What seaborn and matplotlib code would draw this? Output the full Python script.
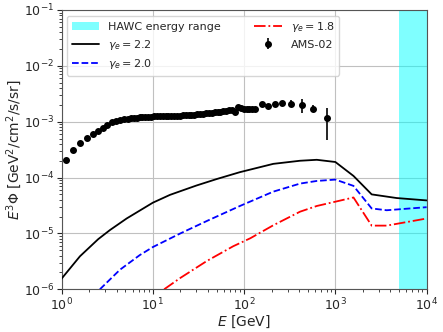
import matplotlib
matplotlib.use('Agg')
import matplotlib.pyplot as plt
import numpy as np
import pandas as pd
import seaborn as sns

# model curves (E in GeV, E^3 Phi)
E_22 = [1, 1.59, 2.52, 3.39, 5.16, 10, 15.4, 20, 30, 50, 90, 209, 410, 626, 1000, 1580, 2500, 4700, 10000]
F_22 = [1.55e-6, 3.9e-6, 7.9e-6, 1.15e-5, 1.85e-5, 3.55e-5, 4.9e-5, 5.7e-5, 7.2e-5, 9.4e-5, 1.25e-4,
        1.76e-4, 2.0e-4, 2.08e-4, 1.9e-4, 1.07e-4, 5.0e-5, 4.3e-5, 3.9e-5]

E_20 = [2.63, 4.36, 7.2, 10, 20, 40, 90, 209, 410, 626, 1000, 1580, 2500, 3650, 10000]
F_20 = [1.0e-6, 2.24e-6, 4.1e-6, 5.7e-6, 1.0e-5, 1.7e-5, 3.1e-5, 5.6e-5, 7.8e-5, 8.7e-5, 9.2e-5,
        7.1e-5, 2.8e-5, 2.6e-5, 2.95e-5]

E_18 = [13.3, 19.8, 38.9, 76, 117, 209, 410, 626, 1000, 1580, 2500, 3650, 10000]
F_18 = [1.0e-6, 1.58e-6, 3.2e-6, 5.9e-6, 8.2e-6, 1.4e-5, 2.45e-5, 3.1e-5, 3.7e-5, 4.4e-5,
        1.38e-5, 1.38e-5, 1.85e-5]

# AMS-02 data
E_ams = [1.11, 1.34, 1.59, 1.88, 2.19, 2.48, 2.81, 3.16, 3.53, 3.94, 4.36, 4.86,
         5.4, 5.8, 6.2, 6.7, 7.2, 7.7, 8.3, 8.9, 9.6, 10.3, 11.1, 11.9, 12.8, 13.8,
         14.8, 15.9, 17.1, 18.4, 19.8, 21.3, 22.9, 24.6, 26.5, 28.5, 30.7, 33.0, 35.5,
         38.2, 41.1, 44.2, 47.6, 51.2, 55.1, 59.3, 63.8, 68.6, 73.8, 79.4, 85.4, 91.9,
         98.9, 106.4, 114.5, 123.2, 132.6, 159, 184, 218, 263, 325, 427, 575, 815]
F_ams = [2.1e-4, 3.1e-4, 4.2e-4, 5.1e-4, 6.05e-4, 6.95e-4, 7.8e-4, 8.9e-4, 9.7e-4, 1.02e-3, 1.07e-3, 1.11e-3,
         1.14e-3, 1.16e-3, 1.17e-3, 1.18e-3, 1.19e-3, 1.20e-3, 1.21e-3, 1.22e-3, 1.23e-3, 1.24e-3, 1.25e-3,
         1.25e-3, 1.26e-3, 1.26e-3, 1.27e-3, 1.27e-3, 1.28e-3, 1.29e-3, 1.29e-3, 1.30e-3, 1.31e-3, 1.32e-3,
         1.33e-3, 1.34e-3, 1.36e-3, 1.38e-3, 1.40e-3, 1.42e-3, 1.44e-3, 1.46e-3, 1.48e-3, 1.50e-3, 1.52e-3,
         1.54e-3, 1.56e-3, 1.60e-3, 1.65e-3, 1.50e-3, 1.82e-3, 1.76e-3, 1.72e-3, 1.70e-3, 1.70e-3, 1.71e-3,
         1.72e-3, 2.1e-3, 1.92e-3, 2.08e-3, 2.12e-3, 2.1e-3, 2.0e-3, 1.72e-3, 1.15e-3]
err_lo = [0.0] * 57 + [1.5e-4, 1.2e-4, 1.5e-4, 2.0e-4, 3.0e-4, 5.5e-4, 2.5e-4, 6.8e-4]
err_hi = [0.0] * 57 + [1.5e-4, 1.2e-4, 1.5e-4, 2.0e-4, 3.5e-4, 5.0e-4, 2.5e-4, 5.9e-4]

hawc_range = [5000, 10000]

sns.set_style('ticks')
plt.rcParams['font.family'] = ['DejaVu Sans']

fig = plt.figure(figsize=(4.43, 3.32), dpi=100)
ax = fig.add_axes([0.139, 0.1286, 0.824, 0.8414])

ax.grid(True, which='major', color='#c0c0c0', lw=0.8, zorder=0)
ax.axvspan(hawc_range[0], hawc_range[1], color='cyan', alpha=0.5, lw=0,
           label='HAWC energy range', zorder=1)

sns.lineplot(x=E_22, y=F_22, ax=ax, color='black', lw=1.3, label=r'$\gamma_e = 2.2$', zorder=3)
sns.lineplot(x=E_20, y=F_20, ax=ax, color='blue', lw=1.3, ls='--', label=r'$\gamma_e = 2.0$', zorder=3)
sns.lineplot(x=E_18, y=F_18, ax=ax, color='red', lw=1.3, ls='-.', label=r'$\gamma_e = 1.8$', zorder=3)
ax.errorbar(E_ams, F_ams, yerr=[err_lo, err_hi], fmt='o', color='black', ms=4,
            elinewidth=1.2, capsize=0, label='AMS-02', zorder=4)

ax.set_xscale('log')
ax.set_yscale('log')
ax.set_xlim(1, 1e4)
ax.set_ylim(1e-6, 1e-1)
ax.set_xlabel(r'$E$ [GeV]', fontsize=10, labelpad=0)
ax.set_ylabel(r'$E^3\Phi$ [GeV$^2$/cm$^2$/s/sr]', fontsize=10, labelpad=0)
ax.tick_params(labelsize=9, pad=2)
for s in ax.spines.values():
    s.set_visible(True)
    s.set_color('#555555')

h, l = ax.get_legend_handles_labels()
order = [l.index(k) for k in ['HAWC energy range', r'$\gamma_e = 2.2$', r'$\gamma_e = 2.0$',
                              r'$\gamma_e = 1.8$', 'AMS-02']]
ax.legend([h[i] for i in order], [l[i] for i in order], ncol=2, loc='upper left',
          fontsize=8, frameon=True, handlelength=2.5, columnspacing=3.0)

fig.savefig('out.png', dpi=100)
